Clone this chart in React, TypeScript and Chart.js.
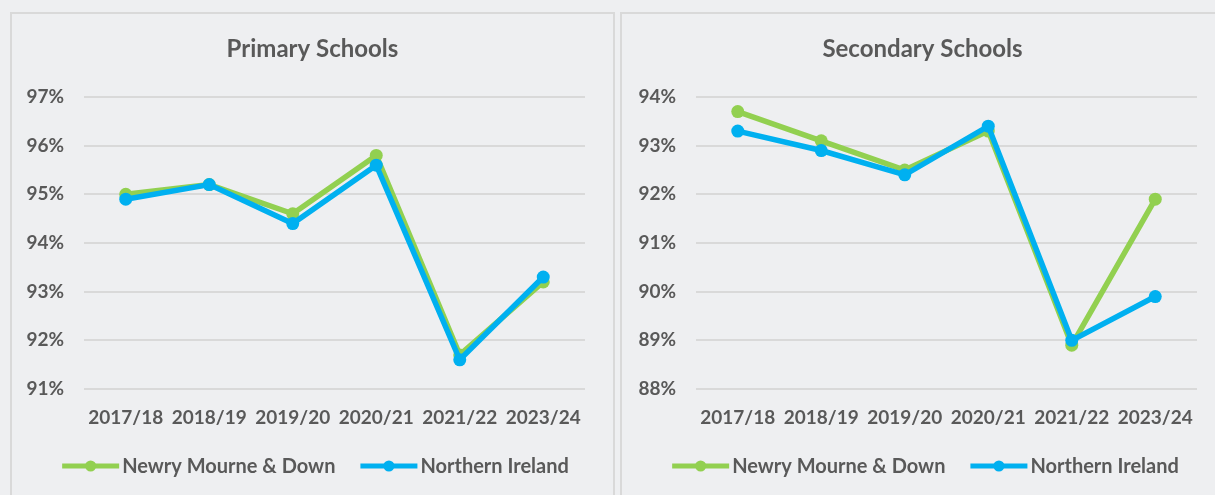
import React, { useEffect, useRef } from "react";
import { Chart, registerables } from "chart.js";

Chart.register(...registerables);

const categories = ["2017/18", "2018/19", "2019/20", "2020/21", "2021/22", "2023/24"];
const seriesNames = ["Newry Mourne & Down", "Northern Ireland"];
const primaryNMD = [95.0, 95.2, 94.6, 95.8, 91.7, 93.2];
const primaryNI = [94.9, 95.2, 94.4, 95.6, 91.6, 93.3];
const secondaryNMD = [93.7, 93.1, 92.5, 93.3, 88.9, 91.9];
const secondaryNI = [93.3, 92.9, 92.4, 93.4, 89.0, 89.9];
const primaryRange = [91, 97];
const secondaryRange = [88, 94];

const GREEN = "#92D050";
const BLUE = "#00B0F0";
const TEXT = "#595959";
const GRID = "#D9D9D9";
const BG = "#EEEFF1";
const FONT = "Lato, 'Open Sans', sans-serif";

const legendPlugin = {
  id: "customLegend",
  afterDraw(chart: any) {
    const ctx = chart.ctx;
    const ds = chart.data.datasets;
    ctx.save();
    ctx.font = `bold 20px ${FONT}`;
    ctx.textBaseline = "middle";
    ctx.textAlign = "left";
    const lineW = 57;
    const gapText = 3;
    const gapItem = 25;
    const widths = ds.map((d: any) => lineW + gapText + ctx.measureText(d.label).width);
    const total = widths.reduce((a: number, b: number) => a + b, 0) + gapItem * (ds.length - 1);
    let x = chart.width / 2 + 3 - total / 2;
    const y = chart.chartArea.bottom + 77;
    ds.forEach((d: any, i: number) => {
      ctx.strokeStyle = d.borderColor;
      ctx.lineWidth = 5;
      ctx.beginPath();
      ctx.moveTo(x, y);
      ctx.lineTo(x + lineW, y);
      ctx.stroke();
      ctx.fillStyle = d.borderColor;
      ctx.beginPath();
      ctx.arc(x + lineW / 2, y, 5.5, 0, Math.PI * 2);
      ctx.fill();
      ctx.fillStyle = TEXT;
      ctx.fillText(d.label, x + lineW + gapText, y + 1);
      x += widths[i] + gapItem;
    });
    ctx.restore();
  },
};

function Panel(props: { title: string; nmd: number[]; ni: number[]; range: number[]; yWidth: number; rightPad: number }) {
  const ref = useRef<HTMLCanvasElement | null>(null);
  useEffect(() => {
    if (!ref.current) return;
    const chart = new Chart(ref.current, {
      type: "line",
      data: {
        labels: categories,
        datasets: [
          {
            label: seriesNames[0],
            data: props.nmd,
            borderColor: GREEN,
            backgroundColor: GREEN,
            borderWidth: 5.5,
            pointRadius: 6.5,
            pointBackgroundColor: GREEN,
            pointBorderWidth: 0,
            order: 1,
            tension: 0,
          },
          {
            label: seriesNames[1],
            data: props.ni,
            borderColor: BLUE,
            backgroundColor: BLUE,
            borderWidth: 5.5,
            pointRadius: 6.5,
            pointBackgroundColor: BLUE,
            pointBorderWidth: 0,
            order: 0,
            tension: 0,
          },
        ],
      },
      options: {
        responsive: false,
        animation: false,
        layout: { padding: 0 },
        plugins: {
          legend: { display: false },
          tooltip: { enabled: false },
          title: {
            display: true,
            text: props.title,
            color: TEXT,
            font: { family: FONT, size: 24, weight: "bold", lineHeight: 1.2 },
            padding: { top: 21, bottom: 33.2 },
          },
        },
        scales: {
          x: {
            offset: true,
            grid: { display: false, drawTicks: false },
            border: { display: false },
            ticks: {
              color: TEXT,
              font: { family: FONT, size: 19, weight: "bold" },
              padding: 17,
              maxRotation: 0,
              autoSkip: false,
            },
            afterFit(scale: any) {
              scale.height = 106;
            },
          },
          y: {
            min: props.range[0],
            max: props.range[1],
            grid: { color: GRID, lineWidth: 2, drawTicks: false },
            border: { display: false },
            ticks: {
              stepSize: 1,
              color: TEXT,
              font: { family: FONT, size: 19, weight: "bold" },
              padding: 20,
              callback: (v: any) => `${v}%`,
            },
            afterFit(scale: any) {
              scale.width = props.yWidth;
            },
          },
          spacer: {
            type: "linear",
            position: "right",
            display: false,
            afterFit(scale: any) {
              scale.width = props.rightPad;
            },
          },
        },
      },
      plugins: [legendPlugin],
    });
    return () => chart.destroy();
  }, []);
  return <canvas ref={ref} width={601} height={481} style={{ display: "block" }} />;
}

export default function App() {
  return (
    <div style={{ position: "fixed", left: 0, top: 0, width: 1215, height: 495, overflow: "hidden", background: BG }}>
      <div style={{ position: "absolute", left: 10, top: 12, width: 601, height: 490, border: `2px solid ${GRID}` }}>
        <Panel title="Primary Schools" nmd={primaryNMD} ni={primaryNI} range={primaryRange} yWidth={72} rightPad={28} />
      </div>
      <div style={{ position: "absolute", left: 620, top: 12, width: 601, height: 490, border: `2px solid ${GRID}` }}>
        <Panel title="Secondary Schools" nmd={secondaryNMD} ni={secondaryNI} range={secondaryRange} yWidth={74} rightPad={26} />
      </div>
    </div>
  );
}
